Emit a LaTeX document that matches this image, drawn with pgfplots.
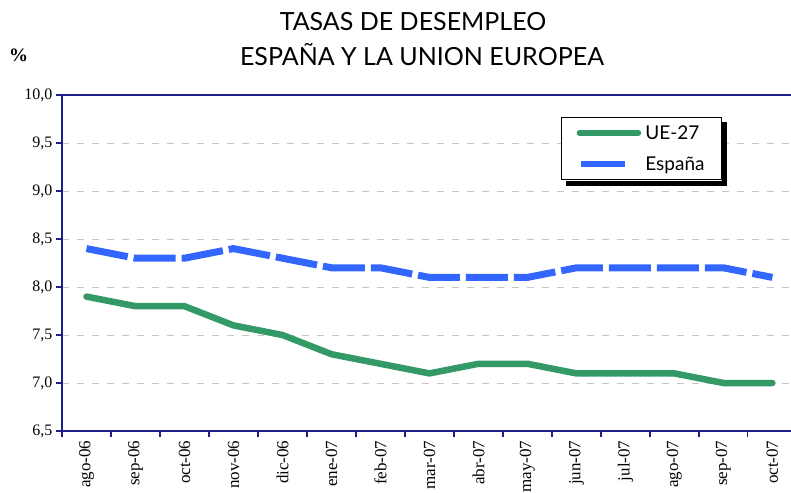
\documentclass[border=0pt]{standalone}
\usepackage{fontspec}
\setmainfont{Liberation Serif}
\newfontfamily\gill{Lato}
\usepackage{pgfplots}
\pgfplotsset{compat=1.18}
\definecolor{uegreen}{RGB}{51,153,102}
\definecolor{esblue}{RGB}{51,102,255}
\definecolor{axnavy}{RGB}{30,30,140}
\pgfplotsset{
  ueimg/.style={legend image code/.code={\draw[uegreen, solid, line width=5.5pt, line cap=round] (3pt,0pt) -- (62pt,0pt);}},
  esimg/.style={legend image code/.code={\path[draw=none] (0pt,0pt) -- (67pt,0pt); \path[fill=esblue, draw=none, solid] (5pt,-3.2pt) rectangle (49pt,3.2pt);}},
}
\begin{document}
\begin{tikzpicture}[x=1pt,y=1pt]
\begin{axis}[
  at={(0,0)}, anchor=south west,
  scale only axis, width=729pt, height=336pt,
  xmin=-0.5, xmax=14.38, ymin=6.5, ymax=10,
  axis lines=left, axis line style={-, axnavy, line width=1.5pt},
  clip=false,
  ytick={6.5,7,7.5,8,8.5,9,9.5,10},
  yticklabel style={/pgf/number format/.cd, use comma, fixed, fixed zerofill, precision=1},
  /pgf/number format/assume math mode=true,
  tick label style={font=\fontsize{16}{18}\selectfont, black},
  ymajorgrids,
  major grid style={dash pattern=on 7pt off 8pt, color=gray!45, line width=0.9pt},
  xtick={-0.5,0.5,...,13.5}, xticklabels={},
  extra x ticks={0,1,...,14},
  extra x tick labels={ago-06,sep-06,oct-06,nov-06,dic-06,ene-07,feb-07,mar-07,abr-07,may-07,jun-07,jul-07,ago-07,sep-07,oct-07},
  extra x tick style={major tick length=0pt, xticklabel shift=6pt,
     tick label style={rotate=90, anchor=east, font=\fontsize{17}{19}\selectfont}},
  tick align=outside, major tick length=6pt,
  tick style={axnavy, line width=1.2pt},
  legend style={name=leg, at={(axis description cs:0.6845,0.9345)}, anchor=north west,
    draw=black, line width=0.8pt, fill=white,
    font=\gill\fontsize{19}{21}\selectfont, inner xsep=15pt, inner ysep=6pt,
    row sep=12pt, nodes={inner sep=2pt}},
  legend cell align=left,
]
\addplot[uegreen, line width=6.5pt, line join=round, line cap=round, ueimg]
  coordinates {(0,7.9)(1,7.8)(2,7.8)(3,7.6)(4,7.5)(5,7.3)(6,7.2)(7,7.1)(8,7.2)(9,7.2)(10,7.1)(11,7.1)(12,7.1)(13,7.0)(14,7.0)};
\addlegendentry{UE-27}
\addplot[esblue, line width=7pt, dash pattern=on 42pt off 6pt, esimg]
  coordinates {(0,8.4)(1,8.3)(2,8.3)(3,8.4)(4,8.3)(5,8.2)(6,8.2)(7,8.1)(8,8.1)(9,8.1)(10,8.2)(11,8.2)(12,8.2)(13,8.2)(14,8.1)};
\addlegendentry{España}
\draw[axnavy, line width=1.5pt] (rel axis cs:0,1) -- (rel axis cs:1,1);
\end{axis}
\fill[black] ([shift={(0.4pt,-5pt)}]leg.north east) rectangle ([shift={(5.4pt,-5.4pt)}]leg.south east);
\fill[black] ([shift={(5pt,-0.4pt)}]leg.south west) rectangle ([shift={(5.4pt,-5.4pt)}]leg.south east);
\node[font=\gill\fontsize{25}{28}\selectfont, anchor=base] at (351,400) {TASAS DE DESEMPLEO};
\node[font=\gill\fontsize{25}{28}\selectfont, anchor=base] at (360,365) {ESPAÑA Y LA UNION EUROPEA};
\node[font=\bfseries\fontsize{19}{21}\selectfont, anchor=base west, inner sep=0pt] at (-53,369) {\%};
\pgfresetboundingbox
\path[use as bounding box] (-62,-61) rectangle (729,431);
\end{tikzpicture}
\end{document}
